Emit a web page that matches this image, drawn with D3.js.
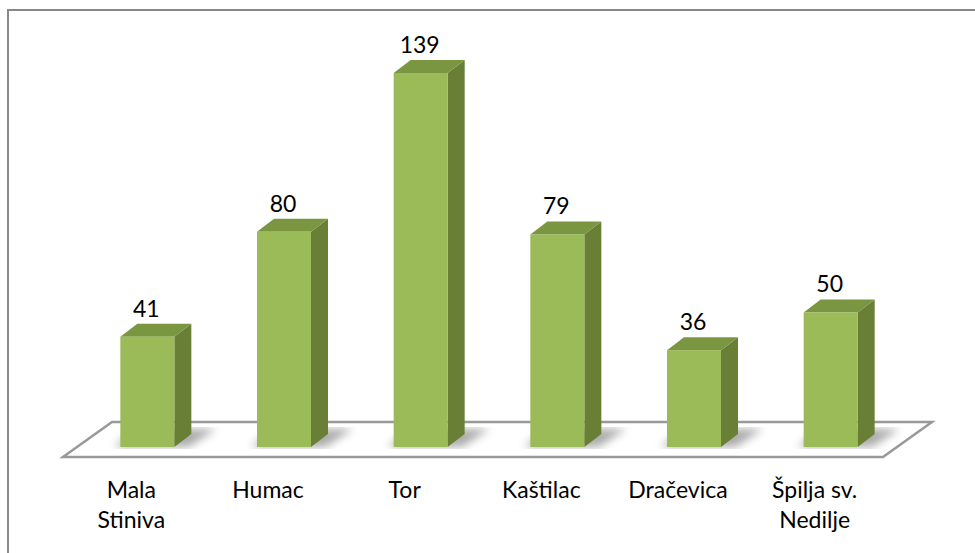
<!DOCTYPE html>
<html>
<head>
<meta charset="utf-8">
<script src="https://cdn.jsdelivr.net/npm/d3@7"></script>
<style>
  body { margin: 0; background: #fff; }
  text { font-family: Lato, "Open Sans", sans-serif; fill: #000; }
</style>
</head>
<body>
<div id="container"></div>
<script>
let categories = ["Mala Stiniva", "Humac", "Tor", "Kaštilac", "Dračevica", "Špilja sv. Nedilje"]
let tickLabels = [["Mala", "Stiniva"], ["Humac"], ["Tor"], ["Kaštilac"], ["Dračevica"], ["Špilja sv.", "Nedilje"]]
let values = [41, 80, 139, 79, 36, 50]

let width = 975
let height = 553
let floor = {front: 457, back: 422, left: 63, right: 883, dx: 49}
let baseY = 447
let barW = 54
let depth = {dx: 17, dy: 13}

function main() {
    let svg = d3.select('#container').append('svg')
      .attr('width', width)
      .attr('height', height)

    // chart border (top and left visible)
    svg.append('path')
      .attr('d', 'M8,553 L8,10 L975,10')
      .attr('fill', 'none')
      .attr('stroke', '#888')
      .attr('stroke-width', 2)

    const x = d3.scaleBand()
      .domain(categories)
      .range([floor.left, floor.right])

    const y = d3.scaleLinear()
      .domain([0, 139])
      .range([baseY, 73])

    let defs = svg.append('defs')
    defs.append('filter').attr('id', 'blur')
      .attr('x', '-50%').attr('width', '200%')
      .append('feGaussianBlur').attr('stdDeviation', 4)

    // floor
    svg.append('path')
      .attr('d', `M${floor.left},${floor.front} L${floor.right},${floor.front} L${floor.right + floor.dx},${floor.back} L${floor.left + floor.dx},${floor.back} Z`)
      .attr('fill', '#fff')
      .attr('stroke', '#999')
      .attr('stroke-width', 2.5)

    let bars = svg.selectAll('g.bar')
      .data(values)
      .enter()
      .append('g')
      .attr('class', 'bar')

    let bx = (d, i) => x(categories[i]) + x.bandwidth() / 2 + 16 - barW / 2

    // shadow on floor
    bars.append('path')
      .attr('d', (d, i) => {
          let x0 = bx(d, i)
          return `M${x0 - 6},${baseY} L${x0 + barW + 14},${baseY} L${x0 + barW + 42},${baseY - 18} L${x0 + 16},${baseY - 18} Z`
      })
      .attr('fill', '#666')
      .attr('opacity', 0.55)
      .attr('filter', 'url(#blur)')

    // side face
    bars.append('path')
      .attr('d', (d, i) => {
          let x1 = bx(d, i) + barW
          return `M${x1},${baseY} L${x1 + depth.dx},${baseY - depth.dy} L${x1 + depth.dx},${y(d) - depth.dy} L${x1},${y(d)} Z`
      })
      .attr('fill', '#687f35')

    // top face
    bars.append('path')
      .attr('d', (d, i) => {
          let x0 = bx(d, i)
          return `M${x0},${y(d)} L${x0 + barW},${y(d)} L${x0 + barW + depth.dx},${y(d) - depth.dy} L${x0 + depth.dx},${y(d) - depth.dy} Z`
      })
      .attr('fill', '#7a9640')

    // front face
    bars.append('rect')
      .attr('x', (d, i) => bx(d, i))
      .attr('y', d => y(d))
      .attr('width', barW)
      .attr('height', d => baseY - y(d))
      .attr('fill', '#9bbb59')

    // value labels
    bars.append('text')
      .attr('x', (d, i) => bx(d, i) + barW / 2 - 1)
      .attr('y', d => y(d) - depth.dy - 7)
      .attr('text-anchor', 'middle')
      .style('font-size', '23px')
      .text(d => d)

    // category labels
    let labels = svg.selectAll('text.cat')
      .data(tickLabels)
      .enter()
      .append('text')
      .attr('class', 'cat')
      .attr('text-anchor', 'middle')
      .style('font-size', '23px')
      .attr('transform', (d, i) => `translate(${x(categories[i]) + x.bandwidth() / 2},498)`)

    labels.selectAll('tspan')
      .data(d => d)
      .enter()
      .append('tspan')
      .attr('x', 0)
      .attr('y', (d, j) => j * 30)
      .text(d => d)
}

main()
</script>
</body>
</html>
